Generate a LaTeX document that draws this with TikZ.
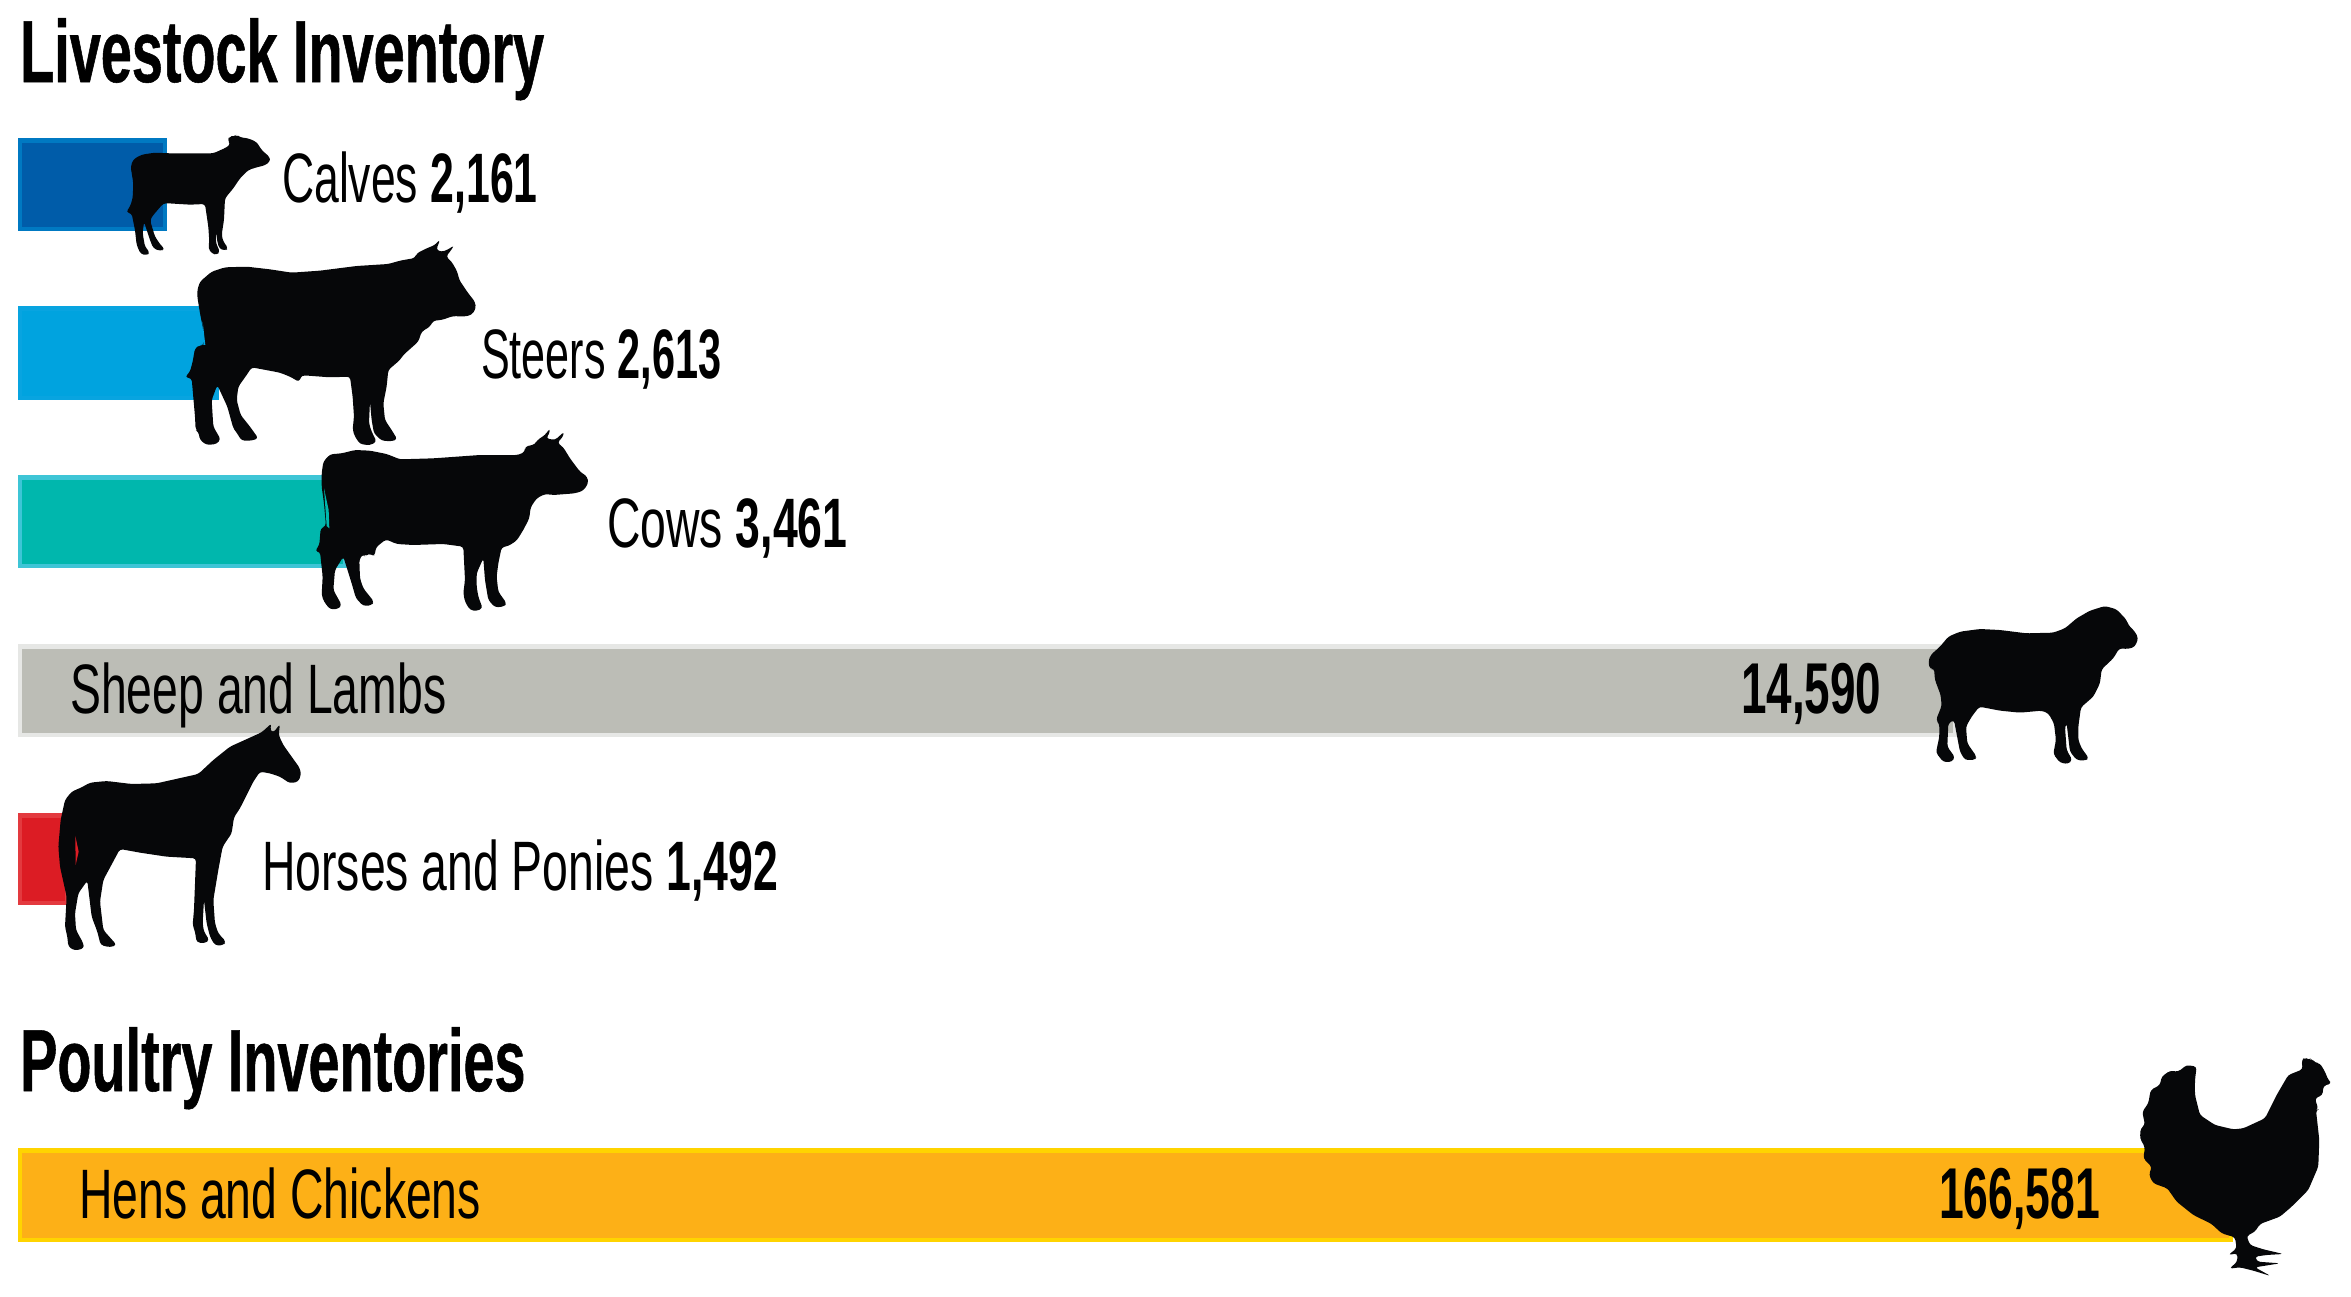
\documentclass[tikz,border=0pt]{standalone}
\usepackage{fontspec}
\usepackage{tikz}
\setmainfont{Liberation Sans}[FakeStretch=0.662, BoldFeatures={FakeStretch=0.637}]
\newfontfamily\numfont{Liberation Sans Bold}[FakeStretch=0.637]
\newfontfamily\headfont{Liberation Sans Bold}[FakeStretch=0.634, FakeBold=0.6]

\definecolor{calfedge}{HTML}{0079C2}
\definecolor{calffill}{HTML}{005CA9}
\definecolor{steeredge}{HTML}{08A4E0}
\definecolor{steerfill}{HTML}{00A3DF}
\definecolor{cowedge}{HTML}{3EC5D6}
\definecolor{cowfill}{HTML}{00B7AD}
\definecolor{sheepedge}{HTML}{E6E7E5}
\definecolor{sheepfill}{HTML}{BCBDB6}
\definecolor{horseedge}{HTML}{E33A3F}
\definecolor{horsefill}{HTML}{DC1C24}
\definecolor{henedge}{HTML}{FFD400}
\definecolor{henfill}{HTML}{FDB017}
\definecolor{animal}{HTML}{060709}

\tikzset{
  heading/.style={anchor=base west, inner sep=0pt, font=\fontsize{88}{90}\headfont},
  itemlabel/.style={anchor=base west, inner sep=0pt, font=\fontsize{70}{72}\selectfont},
  itemcount/.style={anchor=base west, inner sep=0pt, font=\fontsize{72}{72}\numfont},
  squeeze/.style={xscale=#1, transform shape},
  crop/.style 2 args={shift={(#1,#2)}, x=0.3333pt, y=-0.3333pt},
  silhouette/.style={fill=animal, rounded corners=3pt}
}

\begin{document}
\begin{tikzpicture}[x=1pt, y=-1pt]
  \useasboundingbox (0,0) rectangle (2351,1296);

  % Bars
  \foreach \xa/\ya/\xb/\yb/\edgecol/\fillcol in {
    18/138/167/231/calfedge/calffill,
    18/306/219/400/steeredge/steerfill,
    18/475/347/568/cowedge/cowfill,
    18/644/1957/737/sheepedge/sheepfill,
    18/813/69/905/horseedge/horsefill,
    18/1148/2233/1242/henedge/henfill} {
    \fill[\edgecol] (\xa,\ya) rectangle (\xb,\yb);
    \fill[\fillcol] (\xa+4,\ya+5) rectangle (\xb-4,\yb-4.5);
  }

  % Headings
  \node[heading] (livestock) at (20,82) {Livestock Inventory};
  \node[heading] (poultry) at (20,1091) {Poultry Inventories};

  % Labels
  \node[itemlabel, squeeze=0.96] (calves) at (282,202) {Calves \textbf{2,161}};
  \node[itemlabel, squeeze=0.93] (steers) at (481,378) {Steers \textbf{2,613}};
  \node[itemlabel] (cows) at (607,547) {Cows \textbf{3,461}};
  \node[itemlabel] (sheep) at (70,713) {Sheep and Lambs};
  \node[itemcount] (sheepcount) at (1741,713) {14,590};
  \node[itemlabel] (horses) at (262,890) {Horses and Ponies \textbf{1,492}};
  \node[itemlabel] (hens) at (79,1218) {Hens and Chickens};
  \node[itemcount, squeeze=0.97] (hencount) at (1939,1218) {166,581};

  % Calf
  \begin{scope}[crop={100}{120}]
    \fill[silhouette] (92,140) -- (100,118) -- (125,104) -- (165,98) -- (210,100) -- (340,100) -- (380,82) -- (392,72) -- (382,60) -- (390,48) -- (402,50) -- (410,44) -- (420,52) -- (445,55) -- (470,66) -- (485,90) -- (510,112) -- (510,125) -- (495,136) -- (470,142) -- (445,150) -- (420,175) -- (400,205) -- (375,235) -- (372,300) -- (365,345) -- (370,365) -- (385,385) -- (375,392) -- (358,386) -- (352,365) -- (348,335) -- (348,370) -- (360,395) -- (350,405) -- (335,400) -- (325,385) -- (328,365) -- (325,320) -- (315,252) -- (270,254) -- (205,250) -- (190,250) -- (160,285) -- (150,300) -- (165,350) -- (182,375) -- (195,388) -- (180,393) -- (160,385) -- (150,360) -- (132,305) -- (128,340) -- (135,380) -- (150,398) -- (140,406) -- (122,402) -- (110,375) -- (105,330) -- (95,280) -- (78,277) -- (90,260) -- (98,235) -- (100,190) -- cycle;
  \end{scope}

  % Steer
  \begin{scope}[crop={170}{230}]
    \fill[silhouette] (82,180) -- (90,155) -- (125,125) -- (165,112) -- (230,110) -- (300,118) -- (365,128) -- (450,122) -- (560,108) -- (655,102) -- (690,92) -- (735,84) -- (740,70) -- (770,55) -- (795,45) -- (810,28) -- (805,45) -- (798,58) -- (815,66) -- (835,58) -- (853,46) -- (840,65) -- (828,80) -- (845,95) -- (862,125) -- (868,150) -- (895,190) -- (915,215) -- (918,235) -- (905,255) -- (880,260) -- (850,258) -- (815,270) -- (790,272) -- (780,290) -- (755,305) -- (745,335) -- (700,375) -- (690,390) -- (655,420) -- (650,470) -- (640,520) -- (645,570) -- (665,600) -- (682,628) -- (665,634) -- (635,632) -- (612,610) -- (605,570) -- (600,515) -- (597,580) -- (605,605) -- (620,635) -- (600,646) -- (570,642) -- (555,620) -- (548,600) -- (552,560) -- (548,500) -- (540,440) -- (480,442) -- (400,436) -- (392,440) -- (388,456) -- (360,440) -- (330,428) -- (245,412) -- (230,435) -- (205,470) -- (200,510) -- (212,555) -- (240,590) -- (265,625) -- (245,632) -- (215,632) -- (198,605) -- (190,595) -- (172,530) -- (142,465) -- (125,510) -- (130,590) -- (152,628) -- (140,642) -- (110,645) -- (90,630) -- (85,605) -- (77,600) -- (75,560) -- (65,445) -- (45,442) -- (60,425) -- (68,395) -- (75,355) -- (90,345) -- (100,348) -- (100,300) -- (90,250) -- (82,200) -- cycle;
    \fill[steerfill] (98,275) -- (106,345) -- (100,345) -- cycle;
  \end{scope}

  % Cow
  \begin{scope}[crop={300}{420}]
    \fill[silhouette] (65,160) -- (70,125) -- (90,103) -- (125,100) -- (165,90) -- (210,92) -- (260,102) -- (300,118) -- (400,115) -- (540,105) -- (655,105) -- (675,95) -- (675,80) -- (705,73) -- (712,60) -- (735,45) -- (750,25) -- (748,42) -- (738,55) -- (765,60) -- (793,35) -- (788,52) -- (772,68) -- (790,82) -- (810,115) -- (840,155) -- (862,170) -- (865,190) -- (850,212) -- (825,220) -- (760,225) -- (735,222) -- (710,235) -- (692,262) -- (688,295) -- (670,330) -- (650,362) -- (625,378) -- (605,382) -- (595,430) -- (590,470) -- (595,515) -- (620,550) -- (612,560) -- (585,562) -- (565,540) -- (555,480) -- (550,415) -- (530,460) -- (530,500) -- (535,530) -- (548,565) -- (530,573) -- (510,570) -- (495,545) -- (490,520) -- (495,480) -- (490,380) -- (430,372) -- (340,375) -- (290,372) -- (258,358) -- (228,382) -- (224,408) -- (215,405) -- (205,400) -- (196,410) -- (190,402) -- (178,418) -- (180,475) -- (190,505) -- (222,545) -- (215,556) -- (190,558) -- (168,535) -- (155,490) -- (130,410) -- (105,450) -- (100,510) -- (125,555) -- (115,567) -- (90,568) -- (72,545) -- (65,525) -- (68,470) -- (60,395) -- (45,394) -- (58,375) -- (62,325) -- (78,318) -- (72,250) -- (65,200) -- cycle;
    \fill[cowfill] (72,205) -- (86,270) -- (88,325) -- (80,318) -- cycle;
  \end{scope}

  % Sheep
  \begin{scope}[crop={1700}{580}]
    \fill[silhouette] (685,245) -- (692,225) -- (720,200) -- (745,170) -- (780,155) -- (840,147) -- (900,150) -- (980,160) -- (1060,158) -- (1095,145) -- (1130,115) -- (1170,92) -- (1215,78) -- (1250,88) -- (1280,120) -- (1285,135) -- (1305,155) -- (1315,175) -- (1305,200) -- (1285,207) -- (1258,205) -- (1240,235) -- (1205,268) -- (1200,310) -- (1180,350) -- (1143,382) -- (1135,440) -- (1135,480) -- (1145,505) -- (1167,535) -- (1155,542) -- (1130,540) -- (1110,515) -- (1100,430) -- (1095,440) -- (1100,510) -- (1117,540) -- (1105,552) -- (1080,548) -- (1060,522) -- (1068,480) -- (1062,430) -- (1045,400) -- (1025,392) -- (960,398) -- (900,392) -- (838,380) -- (815,410) -- (798,440) -- (802,490) -- (830,530) -- (825,540) -- (795,540) -- (780,515) -- (762,420) -- (745,430) -- (742,500) -- (765,532) -- (755,546) -- (730,546) -- (708,518) -- (718,470) -- (718,432) -- (708,420) -- (725,378) -- (722,345) -- (705,300) -- (702,265) -- (690,268) -- cycle;
  \end{scope}

  % Horse
  \begin{scope}[crop={40}{710}]
    \fill[silhouette] (55,410) -- (62,330) -- (75,270) -- (95,245) -- (125,232) -- (150,218) -- (200,213) -- (275,222) -- (350,220) -- (475,192) -- (520,150) -- (570,110) -- (665,67) -- (695,40) -- (690,60) -- (700,68) -- (720,42) -- (716,75) -- (730,105) -- (780,175) -- (783,195) -- (775,215) -- (750,220) -- (720,200) -- (690,190) -- (660,185) -- (640,215) -- (600,295) -- (582,322) -- (575,370) -- (548,410) -- (535,480) -- (520,570) -- (525,640) -- (535,670) -- (558,695) -- (550,706) -- (525,706) -- (510,680) -- (500,640) -- (492,570) -- (488,640) -- (492,665) -- (508,690) -- (495,700) -- (470,697) -- (465,665) -- (458,645) -- (462,600) -- (468,445) -- (380,440) -- (300,428) -- (240,417) -- (190,510) -- (180,575) -- (190,660) -- (230,705) -- (210,712) -- (182,705) -- (172,665) -- (155,620) -- (142,512) -- (115,550) -- (105,610) -- (108,660) -- (130,700) -- (132,715) -- (105,722) -- (85,710) -- (82,680) -- (75,650) -- (80,560) -- (60,470) -- cycle;
    \fill[horsefill] (106,378) -- (116,425) -- (107,465) -- cycle;
  \end{scope}

  % Hen
  \begin{scope}[crop={1900}{1030}]
    \fill[silhouette] (890,110) -- (885,150) -- (885,195) -- (900,255) -- (945,285) -- (1000,298) -- (1030,295) -- (1095,265) -- (1130,195) -- (1165,135) -- (1208,118) -- (1205,90) -- (1215,82) -- (1225,90) -- (1235,85) -- (1245,98) -- (1260,100) -- (1275,125) -- (1285,150) -- (1295,160) -- (1270,168) -- (1268,195) -- (1245,205) -- (1255,238) -- (1248,240) -- (1258,330) -- (1255,410) -- (1225,480) -- (1175,530) -- (1140,560) -- (1080,582) -- (1065,605) -- (1040,618) -- (1050,645) -- (1090,658) -- (1150,672) -- (1100,675) -- (1065,680) -- (1072,695) -- (1140,700) -- (1065,712) -- (1112,738) -- (1060,722) -- (1020,712) -- (988,716) -- (1012,695) -- (1012,670) -- (985,675) -- (1010,655) -- (1005,622) -- (965,610) -- (935,582) -- (880,555) -- (830,515) -- (802,475) -- (760,460) -- (747,435) -- (755,410) -- (730,385) -- (735,352) -- (720,325) -- (722,295) -- (735,285) -- (727,245) -- (745,220) -- (752,180) -- (780,165) -- (785,140) -- (810,122) -- (835,125) -- (860,105) -- cycle;
  \end{scope}
\end{tikzpicture}
\end{document}
